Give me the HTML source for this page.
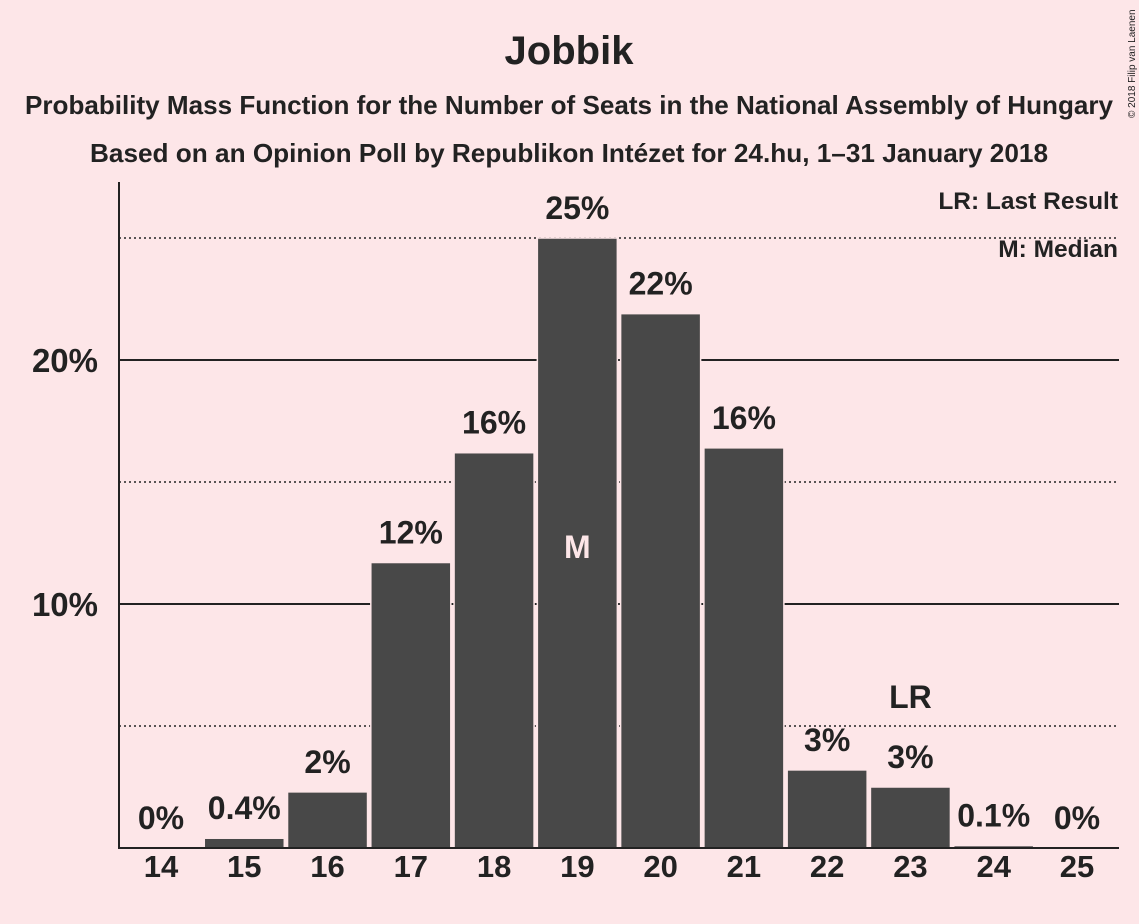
<!DOCTYPE html>
<html><head><meta charset="utf-8"><style>
body{margin:0;background:#fde6e8;}
svg{display:block;font-family:"Liberation Sans",sans-serif;}
</style></head><body>
<svg id="chart" width="1139" height="924">
<rect width="1139" height="924" fill="#fde6e8"/>
<text x="569" y="64" text-anchor="middle" font-size="40" font-weight="bold" fill="#222">Jobbik</text>
<text x="569" y="114" text-anchor="middle" font-size="26" font-weight="bold" fill="#222" textLength="1088" lengthAdjust="spacingAndGlyphs">Probability Mass Function for the Number of Seats in the National Assembly of Hungary</text>
<text x="569" y="162" text-anchor="middle" font-size="26" font-weight="bold" fill="#222" textLength="958" lengthAdjust="spacingAndGlyphs">Based on an Opinion Poll by Republikon Intézet for 24.hu, 1–31 January 2018</text>
<text transform="translate(1135,118) rotate(-90)" font-size="10" fill="#222">© 2018 Filip van Laenen</text>
<text x="1118" y="209" text-anchor="end" font-size="24.5" font-weight="bold" fill="#222">LR: Last Result</text>
<text x="1118" y="257" text-anchor="end" font-size="24.5" font-weight="bold" fill="#222">M: Median</text>
<g id="grid"></g>
<g id="bars"></g>
<g id="labels"></g>
<line x1="119" y1="182" x2="119" y2="848" stroke="#222" stroke-width="2"/>
<line x1="118" y1="848" x2="1119" y2="848" stroke="#222" stroke-width="2"/>
</svg>
<script>
const categories=[14,15,16,17,18,19,20,21,22,23,24,25];
const values=[0,0.4,2.3,11.7,16.2,25.0,21.9,16.4,3.2,2.5,0.1,0];
const valueLabels=["0%","0.4%","2%","12%","16%","25%","22%","16%","3%","3%","0.1%","0%"];
const solidTicks=[10,20];
const tickLabels=["10%","20%"];
const dottedTicks=[5,15,25];
const medianSeat=19;
const lastResultSeat=23;
const NS="http://www.w3.org/2000/svg";
const y=v=>848-v*24.4;
const x=c=>161+(c-14)*83.27;
const bw=80;
function mk(tag,attrs,parent){const e=document.createElementNS(NS,tag);for(const k in attrs)e.setAttribute(k,attrs[k]);parent.appendChild(e);return e;}
const grid=document.getElementById('grid'),bars=document.getElementById('bars'),labels=document.getElementById('labels');
solidTicks.forEach((t,i)=>{
 const l=mk('line',{x1:119,x2:1119,y1:y(t),y2:y(t),stroke:'#222','stroke-width':2},grid);
 
 
 const tx=mk('text',{x:98,y:y(t)+12,'text-anchor':'end','font-size':33,'font-weight':'bold',fill:'#222'},grid);
 tx.textContent=tickLabels[i];
 
 
});
dottedTicks.forEach(t=>{
 const l=mk('line',{x1:119,x2:1119,y1:y(t),y2:y(t),stroke:'#222','stroke-width':1.5,'stroke-dasharray':'2,3'},grid);
 
 
});
categories.forEach((c,i)=>{
 const v=values[i];
 if(v>0){
  const r=mk('rect',{x:x(c)-bw/2,y:y(v),width:bw,height:848-y(v),fill:'#484848',stroke:'#fde6e8','stroke-width':1.5},bars);
  
  
 }
 const lb=mk('text',{x:x(c),y:y(v)-19,'text-anchor':'middle','font-size':32,'font-weight':'bold',fill:'#222'},labels);
 lb.textContent=valueLabels[i];
 
 
 const tk=mk('text',{x:x(c),y:877,'text-anchor':'middle','font-size':31,'font-weight':'bold',fill:'#222'},labels);
 tk.textContent=c;
 
 
 if(c===medianSeat){
  const m=mk('text',{x:x(c),y:558,'text-anchor':'middle','font-size':32,'font-weight':'bold',fill:'#fde6e8'},labels);
  m.textContent='M';
  
  
 }
 if(c===lastResultSeat){
  const m=mk('text',{x:x(c),y:708,'text-anchor':'middle','font-size':32,'font-weight':'bold',fill:'#222'},labels);
  m.textContent='LR';
  
  
 }
});
</script>
</body></html>
